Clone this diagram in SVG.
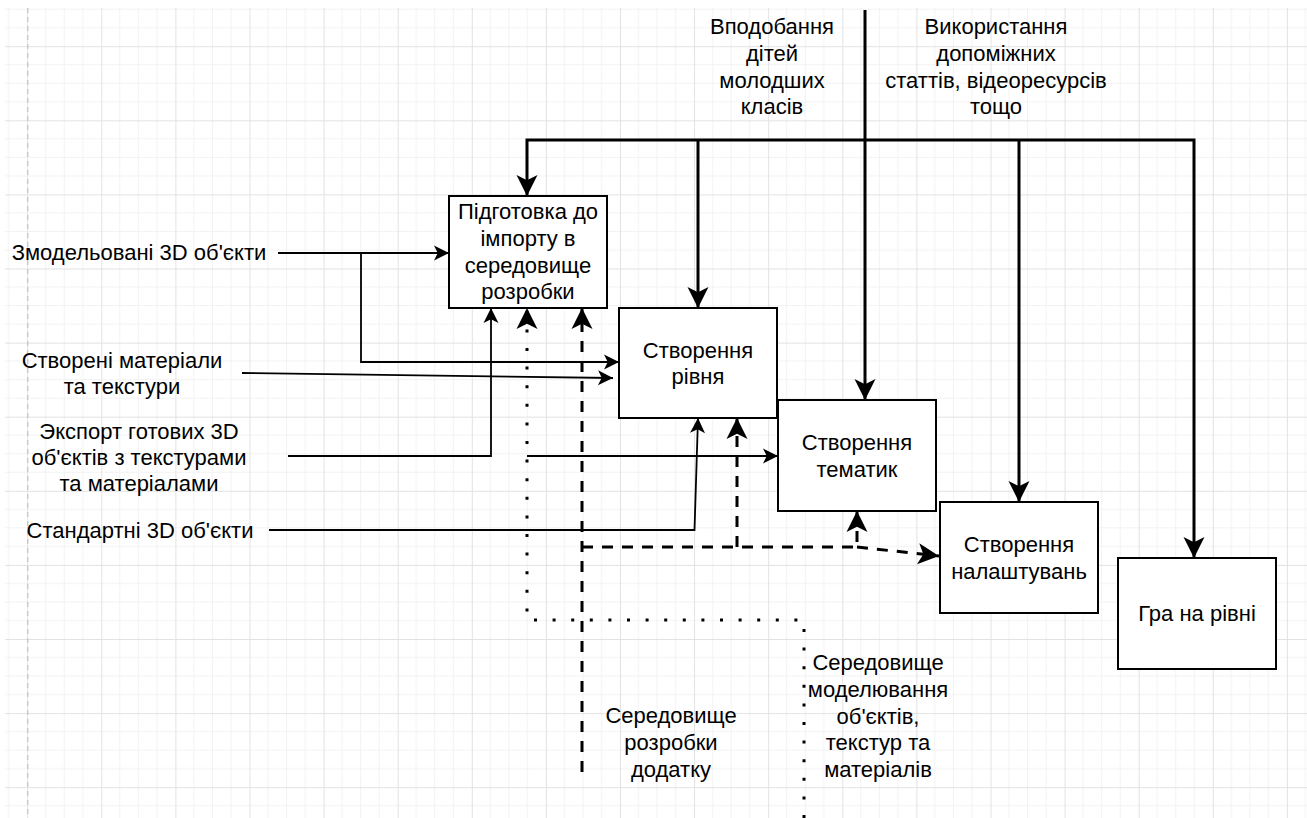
<svg xmlns="http://www.w3.org/2000/svg" width="1307" height="818" viewBox="0 0 1307 818">
<style>
text{font-family:"Liberation Sans",Arial,sans-serif;font-size:22px;fill:#000;text-anchor:middle}
.box{fill:#fff;stroke:#000;stroke-width:2}
.thick{fill:none;stroke:#000;stroke-width:3}
.dash{fill:none;stroke:#000;stroke-width:3;stroke-dasharray:11 9}
.dot{fill:none;stroke:#000;stroke-width:3;stroke-dasharray:3 15.6}
.thin{fill:none;stroke:#000;stroke-width:1.8}
</style>
<defs>
<pattern id="grid" x="27.2" y="46.2" width="74.1" height="74.1" patternUnits="userSpaceOnUse">
<path d="M18.525 0V74.1M37.05 0V74.1M55.575 0V74.1M0 18.525H74.1M0 37.05H74.1M0 55.575H74.1" stroke="#f2f2f2" stroke-width="1"/>
<path d="M0.5 0V74.1M0 0.5H74.1" stroke="#e2e2e2" stroke-width="1"/>
</pattern>
<marker id="ab" markerUnits="userSpaceOnUse" markerWidth="24" markerHeight="24" viewBox="-22 -12 24 24" refX="0" refY="0" orient="auto"><path d="M0 0L-21 -10.5L-15.75 0L-21 10.5Z" fill="#000"/></marker>
<marker id="as" markerUnits="userSpaceOnUse" markerWidth="18" markerHeight="18" viewBox="-16 -9 18 18" refX="0" refY="0" orient="auto"><path d="M0 0L-15 -7.5L-11.25 0L-15 7.5Z" fill="#000"/></marker>
</defs>
<rect width="1307" height="818" fill="#fff"/>
<rect x="5" y="8" width="1302" height="810" fill="url(#grid)"/>
<path d="M27.7 8V818" stroke="#c4c4c4" stroke-width="1.2" stroke-dasharray="5 4" fill="none"/>

<g id="n1"><rect class="box" x="449" y="196" width="158" height="112"/>
<text x="528" y="219.2">Підготовка до</text><text x="528" y="245.9">імпорту в</text><text x="528" y="272.6">середовище</text><text x="528" y="299.3">розробки</text></g>
<g id="n2"><rect class="box" x="619" y="308" width="158" height="110"/>
<text x="698" y="357.5">Створення</text><text x="698" y="384.2">рівня</text></g>
<g id="n3"><rect class="box" x="778" y="400" width="158" height="111"/>
<text x="857" y="450.2">Створення</text><text x="857" y="476.9">тематик</text></g>
<g id="n4"><rect class="box" x="940" y="502" width="158" height="111"/>
<text x="1019" y="552">Створення</text><text x="1019" y="578.7">налаштувань</text></g>
<g id="n5"><rect class="box" x="1118" y="558" width="158" height="111"/>
<text x="1197" y="620.8">Гра на рівні</text></g>

<g id="l-vpodobannya"><text x="772" y="34.2">Вподобання</text><text x="772" y="60.9">дітей</text><text x="772" y="87.6">молодших</text><text x="772" y="114.3">класів</text></g>
<g id="l-vykorystannya"><text x="996" y="34.2">Використання</text><text x="996" y="60.9">допоміжних</text><text x="996" y="87.6">статтів, відеоресурсів</text><text x="996" y="114.3">тощо</text></g>
<g id="l-zmodelovani"><text x="139" y="260.2">Змодельовані 3D об'єкти</text></g>
<g id="l-stvoreni"><text x="122" y="367.5">Створені матеріали</text><text x="122" y="394.2">та текстури</text></g>
<g id="l-eksport"><text x="139" y="439">Экспорт готових 3D</text><text x="139" y="465">об'єктів з текстурами</text><text x="139" y="491">та матеріалами</text></g>
<g id="l-standartni"><text x="140" y="537.5">Стандартні 3D об'єкти</text></g>
<g id="l-rozrobky"><text x="671" y="723.3">Середовище</text><text x="671" y="750">розробки</text><text x="671" y="776.7">додатку</text></g>
<g id="l-modelyuvannya"><text x="878" y="670">Середовище</text><text x="878" y="696.8">моделювання</text><text x="878" y="723.6">об'єктів,</text><text x="878" y="750.4">текстур та</text><text x="878" y="777.2">матеріалів</text></g>

<g id="connectors">
<path class="thick" d="M865 10V400" marker-end="url(#ab)"/>
<path class="thick" d="M698 140H527V196" marker-end="url(#ab)"/>
<path class="thick" d="M698 140V308" marker-end="url(#ab)"/>
<path class="thick" d="M698 140H1194V558" marker-end="url(#ab)"/>
<path class="thick" d="M1019 140V502" marker-end="url(#ab)"/>
<path class="dash" d="M582 772V308" marker-end="url(#ab)"/>
<path class="dash" d="M582 547H857V511" marker-end="url(#ab)"/>
<path class="dash" d="M737 547V418" marker-end="url(#ab)"/>
<path class="dash" d="M857 547L939 556" marker-end="url(#ab)"/>
<path class="dot" d="M804 818V620H527V308" marker-end="url(#ab)"/>
<path class="thin" d="M278 253H449" marker-end="url(#as)"/>
<path class="thin" d="M361 253V362H619" marker-end="url(#as)"/>
<path class="thin" d="M242 373L613 378" marker-end="url(#as)"/>
<path class="thin" d="M288 456H491V308" marker-end="url(#as)"/>
<path class="thin" d="M269 530H694.5L698 418" marker-end="url(#as)"/>
<path class="thin" d="M527 456H778" marker-end="url(#as)"/>
</g>
</svg>
